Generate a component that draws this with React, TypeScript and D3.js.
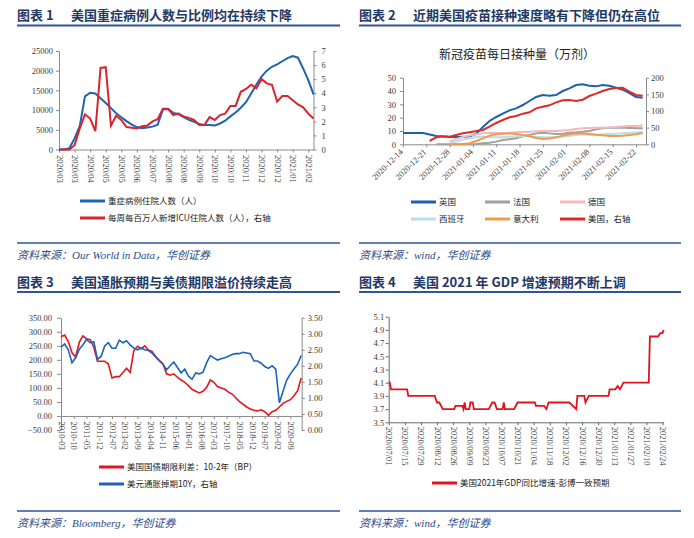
import React, { useEffect, useRef } from "react";
import * as d3 from "d3";

const W = 694;
const H = 538;

const SERIF = "'Liberation Serif', 'Times New Roman', serif";
const CJK = "'Noto Sans CJK SC', sans-serif";
const NAVY = "#1f3864";
const RULE = "#2f5597";
const SOURCE = "#2b4c8c";
const AXIS = "#8a8a8a";
const LABEL = "#3a3a3a";

// ---------- 图表1: 重症住院 / ICU ----------
const icuTickLabels = [
  "2020/03", "2020/03", "2020/04", "2020/05", "2020/05", "2020/06", "2020/07", "2020/08", "2020/08",
  "2020/09", "2020/10", "2020/10", "2020/11", "2020/12", "2020/12", "2021/01", "2021/02",
];
// weekly
const hospitalized = [
  0, 0, 300, 2800, 6000, 13500, 14400, 14200, 13000, 11800,
  10500, 9200, 8200, 7200, 6300, 5700, 5400, 5600, 5800, 6300,
  10200, 10300, 9300, 9000, 8200, 7500, 7000, 6500, 6200, 6200,
  6100, 6600, 7300, 8400, 9400, 10600, 12000, 14200, 16500, 18500,
  20000, 21000, 21600, 22400, 23200, 23700, 23300, 20600, 17600, 14000,
];
const icuPerMillion = [
  0, 0, 0, 0.3, 1.5, 2.5, 2.2, 1.3, 5.8, 5.85,
  1.7, 2.4, 2.1, 1.6, 1.55, 1.5, 1.65, 1.7, 2.0, 2.15,
  2.9, 2.9, 2.45, 2.55, 2.35, 2.25, 2.1, 1.75, 1.75, 2.3,
  2.1, 2.45, 2.55, 3.1, 3.1, 4.1, 4.3, 4.6, 4.35, 5.0,
  4.7, 4.6, 3.4, 3.8, 3.8, 3.5, 3.2, 3.0, 2.55, 2.2,
];

// ---------- 图表2: 疫苗接种 (every 2 days from 2020-12-14) ----------
const vaccStart = "2020-12-14";
const vaccTicks = [
  "2020-12-14", "2020-12-21", "2020-12-28", "2021-01-04", "2021-01-11", "2021-01-18",
  "2021-01-25", "2021-02-01", "2021-02-08", "2021-02-15", "2021-02-22",
];
const N = null;
const ukDoses = [
  8.5, 8.5, 8.5, 8.5, 7.3, 6.3, 5.8, 5.5, 5.5, 5.5,
  5.8, 8, 13, 17.5, 20.5, 23, 25.5, 27, 29.5, 32.5,
  35.5, 37, 36.5, 37, 40, 42, 44.5, 45, 44, 43.5,
  44.5, 44, 42.5, 41, 38.5, 35.5, 35,
];
const franceDoses = [
  N, N, N, N, N, 0, 0, 0, 0, 0,
  0, 0.2, 0.8, 1.2, 2, 3.2, 3.8, 4.5, 6, 7,
  8.2, 8.7, 8.2, 7.8, 8, 8.7, 9, 9.5, 10, 11.2,
  12, 12.5, 12.5, 12.5, 12.3, 12, 12,
];
const germanyDoses = [
  N, N, N, N, N, N, N, 2, 4, 5.5,
  6.5, 7.5, 8.2, 8.7, 8.5, 8.5, 8.7, 9, 9.3, 9.5,
  9.8, 10, 10, 10, 10.3, 10.7, 11.5, 12, 12.3, 12.5,
  12.5, 12.7, 13, 13.3, 13.7, 13.8, 14.2,
];
const spainDoses = [
  N, N, N, N, N, N, N, 1, 2, 3.5,
  4.5, 5.5, 5.8, 5.5, 5.3, 5.3, 5.6, 6, 6.2, 6,
  5.7, 5.3, 5.2, 5.3, 5.7, 6.5, 7, 7.5, 7.2, 7.2,
  7.5, 7.7, 8, 8.3, 8.6, 8.8, 9,
];
const italyDoses = [
  N, N, N, N, N, N, N, 0, 0, 0.3,
  0.8, 2.5, 4.5, 6.5, 7.5, 8, 8.2, 7.8, 7, 6,
  4.8, 4, 4.3, 5.3, 6.5, 7.5, 8.2, 8.2, 7.8, 7.2,
  6.7, 6.3, 6.2, 6.5, 7, 7.5, 8.5,
];
const usDoses = [
  N, N, N, N, 10, 21, 24, 23, 28, 33,
  36, 40, 43, 53, 64, 73, 81, 85, 92, 96,
  108, 113, 117, 126, 132, 133, 130, 134, 145, 152,
  160, 166, 169, 170, 158, 148, 146,
];
const vaccSeries = [
  { name: "英国", values: ukDoses, color: "#1f5fae", right: false },
  { name: "法国", values: franceDoses, color: "#a0a0a0", right: false },
  { name: "德国", values: germanyDoses, color: "#f2b9b9", right: false },
  { name: "西班牙", values: spainDoses, color: "#b9dfea", right: false },
  { name: "意大利", values: italyDoses, color: "#f39a4a", right: false },
  { name: "美国，右轴", values: usDoses, color: "#e02a2a", right: true },
];

// ---------- 图表3: 期限利差 / 通胀掉期 (every 2 months from 2010-03) ----------
const spreadStart = "2010-03";
const spreadTicks = [
  "2010-03", "2010-10", "2011-05", "2011-12", "2012-07", "2013-02", "2013-09", "2014-04", "2014-11",
  "2015-06", "2016-01", "2016-08", "2017-03", "2017-10", "2018-05", "2018-12", "2019-07", "2020-02", "2020-09",
];
const spread10y2y = [
  282, 288, 265, 225, 210, 262, 285, 275, 272, 245,
  195, 195, 195, 185, 135, 140, 140, 155, 170, 155,
  232, 248, 240, 250, 235, 230, 212, 198, 185, 150,
  145, 150, 138, 128, 120, 108, 95, 88, 82, 88,
  102, 128, 120, 105, 100, 95, 85, 78, 65, 52,
  42, 32, 25, 20, 18, 22, 15, 2, 15, 20,
  32, 45, 52, 58, 72, 90, 135,
];
const inflationSwap10y = [
  2.58, 2.68, 2.5, 2.1, 2.25, 2.52, 2.65, 2.82, 2.72, 2.75,
  2.2, 2.3, 2.62, 2.72, 2.55, 2.55, 2.8, 2.72, 2.78, 2.65,
  2.55, 2.5, 2.55, 2.5, 2.48, 2.4, 2.28, 2.15, 2.05, 1.88,
  2.0, 2.12, 1.95, 1.78, 1.9, 1.68, 1.58, 1.78, 1.75, 1.8,
  2.1, 2.32, 2.25, 2.18, 2.22, 2.25, 2.3, 2.35, 2.38, 2.38,
  2.42, 2.4, 2.38, 2.15, 2.15, 2.08, 1.98, 1.92, 2.0, 1.9,
  0.85, 1.2, 1.55, 1.75, 1.9, 2.05, 2.32,
];

// ---------- 图表4: GDP 预期 ----------
const gdpTicks = [
  "2020-07-01", "2020-07-15", "2020-07-29", "2020-08-12", "2020-08-26", "2020-09-09", "2020-09-23",
  "2020-10-07", "2020-10-21", "2020-11-04", "2020-11-18", "2020-12-02", "2020-12-16", "2020-12-30",
  "2021-01-13", "2021-01-27", "2021-02-10", "2021-02-24",
];
const gdpDates = [
  "2020-07-01", "2020-07-02", "2020-07-03", "2020-07-17", "2020-07-18", "2020-08-10", "2020-08-12",
  "2020-08-14", "2020-08-17", "2020-08-27", "2020-08-28", "2020-09-03", "2020-09-04", "2020-09-05",
  "2020-09-06", "2020-09-09", "2020-09-10", "2020-09-12", "2020-09-13", "2020-09-26", "2020-09-29",
  "2020-10-01", "2020-10-03", "2020-10-08", "2020-10-09", "2020-10-10", "2020-10-18", "2020-10-21",
  "2020-11-05", "2020-11-06", "2020-11-13", "2020-11-15", "2020-11-17", "2020-12-05", "2020-12-11",
  "2020-12-12", "2020-12-18", "2020-12-19", "2020-12-22", "2021-01-08", "2021-01-09", "2021-01-14",
  "2021-01-16", "2021-01-18", "2021-01-21", "2021-02-12", "2021-02-13", "2021-02-20", "2021-02-22",
  "2021-02-24", "2021-02-25",
];
const gdpForecast = [
  4.1, 4.1, 4.0, 4.0, 3.9, 3.9, 3.8, 3.8, 3.7, 3.7,
  3.75, 3.75, 3.7, 3.8, 3.7, 3.7, 3.8, 3.8, 3.7, 3.7,
  3.8, 3.8, 3.7, 3.7, 3.8, 3.7, 3.7, 3.8, 3.8, 3.75,
  3.75, 3.7, 3.8, 3.8, 3.7, 3.9, 3.9, 3.8, 3.9, 3.9,
  4.0, 4.0, 4.05, 4.0, 4.1, 4.1, 4.8, 4.8, 4.85, 4.85,
  4.9,
];

const parseDay = d3.timeParse("%Y-%m-%d");
const parseMonth = d3.timeParse("%Y-%m");

type AxisProps = {
  make: () => d3.Axis<any>;
  transform?: string;
  rotate?: number;
  pad?: number;
  color?: string;
};

function Axis({ make, transform, rotate, pad = 5, color = AXIS }: AxisProps) {
  const ref = useRef<SVGGElement | null>(null);
  useEffect(() => {
    if (!ref.current) return;
    const g = d3.select(ref.current);
    g.selectAll("*").remove();
    g.call(make());
    g.attr("font-family", SERIF).attr("font-size", 8.5);
    g.select(".domain").attr("stroke", color);
    g.selectAll(".tick line").attr("stroke", color);
    const t = g.selectAll<SVGTextElement, unknown>(".tick text").attr("fill", LABEL);
    if (rotate === 90) {
      t.attr("x", pad).attr("y", 0).attr("dy", "0.35em").attr("transform", "rotate(90)").attr("text-anchor", "start");
    } else if (rotate === -45) {
      t.attr("x", 0).attr("y", 0).attr("dy", "0.35em")
        .attr("transform", `translate(-2,${pad}) rotate(-45)`).attr("text-anchor", "end");
    }
  });
  return <g ref={ref} transform={transform} />;
}

function PanelTitle({ x, y, num, text, x2 }: { x: number; y: number; num: string; text: string; x2: number }) {
  return (
    <g fontFamily={CJK} fontWeight={700} fontSize={13} fill={NAVY}>
      <text x={x} y={y}>图表 {num}</text>
      <text x={x + 54} y={y}>{text}</text>
      <line x1={x} x2={x2} y1={y + 5.5} y2={y + 5.5} stroke={RULE} strokeWidth={2} />
    </g>
  );
}

function Source({ x, y, text, x2 }: { x: number; y: number; text: string; x2: number }) {
  return (
    <g>
      <line x1={x} x2={x2} y1={y} y2={y} stroke={RULE} strokeWidth={1.5} />
      <text x={x} y={y + 16} fontFamily={`${SERIF}, ${CJK}`} fontStyle="italic" fontSize={11} fill={SOURCE}>
        {text}
      </text>
    </g>
  );
}

function LegendItem({ x, y, color, label }: { x: number; y: number; color: string; label: string }) {
  return (
    <g>
      <line x1={x} x2={x + 25} y1={y} y2={y} stroke={color} strokeWidth={3} />
      <text x={x + 28} y={y} dy="0.35em" fontFamily={CJK} fontSize={8.5} fill="#222">{label}</text>
    </g>
  );
}

function Chart1() {
  const left = 59, right = 313.5, top = 51, bottom = 149.5;
  const x = d3.scaleLinear().domain([0, hospitalized.length - 1]).range([left, right]);
  const yL = d3.scaleLinear().domain([0, 25000]).range([bottom, top]);
  const yR = d3.scaleLinear().domain([0, 7]).range([bottom, top]);
  const tickIdx = icuTickLabels.map((_, i) => i * 3);
  const lineL = d3.line<number>().x((_, i) => x(i)).y((d) => yL(d));
  const lineR = d3.line<number>().x((_, i) => x(i)).y((d) => yR(d));
  return (
    <g>
      <Axis make={() => d3.axisLeft(yL).tickValues(d3.range(0, 25001, 5000)).tickFormat(d3.format("d")).tickSize(3).tickPadding(3).tickSizeOuter(0)} transform={`translate(${left},0)`} />
      <Axis make={() => d3.axisRight(yR).tickValues(d3.range(0, 8)).tickFormat(d3.format("d")).tickSize(3).tickPadding(5).tickSizeOuter(0)} transform={`translate(${right},0)`} />
      <Axis
        make={() => d3.axisBottom(x).tickValues(tickIdx).tickFormat((_, i) => icuTickLabels[i]).tickSize(3).tickSizeOuter(0)}
        transform={`translate(0,${bottom})`}
        rotate={90}
        pad={5.5}
      />
      <path d={lineL(hospitalized) || ""} fill="none" stroke="#1f64b0" strokeWidth={2} />
      <path d={lineR(icuPerMillion) || ""} fill="none" stroke="#d9232d" strokeWidth={2} />
      <LegendItem x={80} y={201} color="#1f64b0" label="重症病例住院人数（人）" />
      <LegendItem x={80} y={218} color="#d9232d" label="每周每百万人新增ICU住院人数（人），右轴" />
    </g>
  );
}

function Chart2() {
  const left = 403, right = 646, top = 77.7, bottom = 144.3;
  const start = parseDay(vaccStart)!;
  const dates = ukDoses.map((_, i) => d3.timeDay.offset(start, i * 2));
  const x = d3.scaleTime().domain([start, d3.timeDay.offset(start, 73)]).range([left, right]);
  const yL = d3.scaleLinear().domain([0, 50]).range([bottom, top]);
  const yR = d3.scaleLinear().domain([0, 200]).range([bottom, top]);
  const fmt = d3.timeFormat("%Y-%m-%d");
  return (
    <g>
      <text x={517} y={59} textAnchor="middle" fontFamily={CJK} fontSize={12} fill="#222">新冠疫苗每日接种量（万剂）</text>
      <Axis make={() => d3.axisLeft(yL).tickValues(d3.range(0, 51, 10)).tickFormat(d3.format("d")).tickSize(3).tickPadding(4).tickSizeOuter(0)} transform={`translate(${left},0)`} />
      <Axis make={() => d3.axisRight(yR).tickValues(d3.range(0, 201, 50)).tickFormat(d3.format("d")).tickSize(3).tickPadding(2).tickSizeOuter(0)} transform={`translate(${right},0)`} />
      <Axis
        make={() => d3.axisBottom(x).tickValues(vaccTicks.map((d) => parseDay(d)!)).tickFormat((d) => fmt(d as Date)).tickSize(3).tickSizeOuter(0)}
        transform={`translate(0,${bottom})`}
        rotate={-45}
        pad={6}
      />
      {vaccSeries.map((s) => {
        const y = s.right ? yR : yL;
        const line = d3
          .line<number | null>()
          .defined((d) => d != null)
          .x((_, i) => x(dates[i]))
          .y((d) => y(d as number));
        return <path key={s.name} d={line(s.values) || ""} fill="none" stroke={s.color} strokeWidth={2} />;
      })}
      {vaccSeries.map((s, i) => (
        <LegendItem key={s.name} x={[411, 485, 560][i % 3]} y={i < 3 ? 202 : 219} color={s.color} label={s.name} />
      ))}
    </g>
  );
}

function Chart3() {
  const left = 61, right = 301.7, top = 317.7, bottom = 430;
  const start = parseMonth(spreadStart)!;
  const dates = spread10y2y.map((_, i) => d3.timeMonth.offset(start, i * 2));
  const x = d3.scaleTime().domain([start, parseDay("2021-03-10")!]).range([left, right]);
  const yL = d3.scaleLinear().domain([-50, 350]).range([bottom, top]);
  const yR = d3.scaleLinear().domain([0, 3.5]).range([bottom, top]);
  const fmt = d3.timeFormat("%Y-%m");
  const lineL = d3.line<number>().x((_, i) => x(dates[i])).y((d) => yL(d));
  const lineR = d3.line<number>().x((_, i) => x(dates[i])).y((d) => yR(d));
  return (
    <g>
      <Axis make={() => d3.axisLeft(yL).tickValues(d3.range(-50, 351, 50)).tickFormat(d3.format(".2f")).tickSize(4).tickPadding(5).tickSizeOuter(0)} transform={`translate(${left},0)`} />
      <Axis make={() => d3.axisRight(yR).tickValues(d3.range(0, 3.51, 0.5)).tickFormat(d3.format(".2f")).tickSize(3).tickPadding(3).tickSizeOuter(0)} transform={`translate(${right},0)`} />
      <Axis
        make={() => d3.axisBottom(x).tickValues(spreadTicks.map((d) => parseMonth(d)!)).tickFormat((d) => fmt(d as Date)).tickSize(3).tickSizeOuter(0)}
        transform={`translate(0,${yL(0)})`}
        rotate={90}
        pad={5.5}
      />
      <path d={lineL(spread10y2y) || ""} fill="none" stroke="#e8141c" strokeWidth={1.6} />
      <path d={lineR(inflationSwap10y) || ""} fill="none" stroke="#1b63b8" strokeWidth={1.6} />
      <LegendItem x={99} y={467} color="#e8141c" label="美国国债期限利差：10-2年（BP）" />
      <LegendItem x={99} y={484} color="#1b63b8" label="美元通胀掉期10Y，右轴" />
    </g>
  );
}

function Chart4() {
  const left = 388.7, right = 663.7, top = 316.7, bottom = 422.3;
  const x = d3.scaleTime().domain([parseDay("2020-07-01")!, parseDay("2021-02-25")!]).range([left, right]);
  const y = d3.scaleLinear().domain([3.5, 5.1]).range([bottom, top]);
  const fmt = d3.timeFormat("%Y/%m/%d");
  const line = d3.line<number>().x((_, i) => x(parseDay(gdpDates[i])!)).y((d) => y(d));
  return (
    <g>
      <Axis make={() => d3.axisLeft(y).tickValues(d3.range(3.5, 5.11, 0.2)).tickFormat(d3.format(".1f")).tickSize(3).tickPadding(1.5).tickSizeOuter(0)} transform={`translate(${left},0)`} color="#6a6a6a" />
      <Axis
        make={() => d3.axisBottom(x).tickValues(gdpTicks.map((d) => parseDay(d)!)).tickFormat((d) => fmt(d as Date)).tickSize(3).tickSizeOuter(0)}
        transform={`translate(0,${bottom})`}
        rotate={90}
        pad={4.5}
        color="#6a6a6a"
      />
      <path d={line(gdpForecast) || ""} fill="none" stroke="#e0141e" strokeWidth={1.8} />
      <LegendItem x={432} y={483} color="#e0141e" label="美国2021年GDP同比增速-彭博一致预期" />
    </g>
  );
}

export default function App() {
  return (
    <svg width={W} height={H} style={{ position: "absolute", left: 0, top: 0, background: "#fff" }}>
      <rect width={W} height={H} fill="#fff" />
      <PanelTitle x={17} y={20} num="1" text="美国重症病例人数与比例均在持续下降" x2={340} />
      <PanelTitle x={359} y={20} num="2" text="近期美国疫苗接种速度略有下降但仍在高位" x2={681} />
      <PanelTitle x={17} y={286.5} num="3" text="美国通胀预期与美债期限溢价持续走高" x2={340} />
      <PanelTitle x={359} y={286.5} num="4" text="美国 2021 年 GDP 增速预期不断上调" x2={681} />
      <Chart1 />
      <Chart2 />
      <Chart3 />
      <Chart4 />
      <Source x={17} y={243} x2={340} text="资料来源：Our World in Data，华创证券" />
      <Source x={359} y={243} x2={681} text="资料来源：wind，华创证券" />
      <Source x={17} y={511} x2={340} text="资料来源：Bloomberg，华创证券" />
      <Source x={359} y={511} x2={681} text="资料来源：wind，华创证券" />
    </svg>
  );
}
